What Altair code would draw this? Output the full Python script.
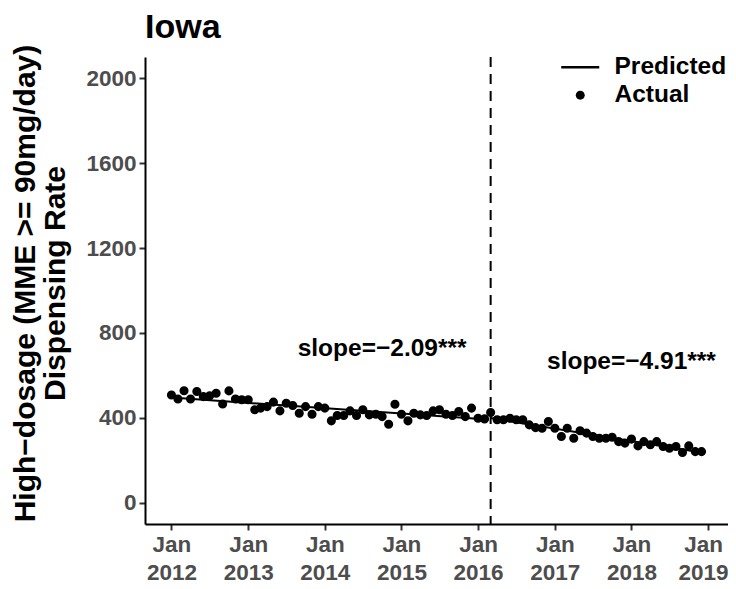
import altair as alt
import pandas as pd

# ---------------- data ----------------
# Monthly high-dosage dispensing rate, Jan 2012 .. Dec 2018
actual_rate = [
    508, 489, 528, 489, 524, 500, 504, 516, 465, 527, 489, 485,   # 2012
    485, 438, 446, 453, 474, 433, 469, 458, 422, 453, 417, 453,   # 2013
    446, 386, 411, 411, 433, 411, 438, 414, 417, 406, 370, 464,   # 2014
    417, 386, 422, 414, 411, 433, 438, 417, 411, 430, 406, 446,   # 2015
    398, 395, 425, 391, 391, 398, 391, 391, 367, 354, 351, 383,   # 2016
    351, 312, 351, 304, 339, 328, 312, 304, 304, 309, 288, 281,   # 2017
    300, 268, 288, 273, 288, 265, 257, 265, 237, 268, 241, 241,   # 2018
]
actual_months = pd.date_range("2012-01-01", "2018-12-01", freq="MS").strftime("%Y-%m-%d").tolist()

# Predicted (segmented regression) line end points
pred_dates = ["2012-01-01", "2016-02-01", "2016-03-01", "2018-12-01"]
pred_values = [496, 393, 399, 237]
pred_period = ["pre", "pre", "post", "post"]

# Intervention date (dashed line)
intervention_date = ["2016-03-01"]

# Slope annotations
annot_text = ["slope=\u22122.09***", "slope=\u22124.91***"]
annot_dates = ["2014-10-01", "2018-01-01"]
annot_values = [725, 663]

y_ticks = [0, 400, 800, 1200, 1600, 2000]
x_tick_years = list(range(2012, 2020))

# ---------------- tables ----------------
df_actual = pd.DataFrame({"date": actual_months, "value": actual_rate, "series": "Actual"})
df_pred = pd.DataFrame({"date": pred_dates, "value": pred_values, "period": pred_period})
df_rule = pd.DataFrame({"date": intervention_date})
df_text = pd.DataFrame({"date": annot_dates, "value": annot_values, "label": annot_text})


def ms(s):
    return int(pd.Timestamp(s, tz="UTC").value // 10**6)


x_domain = [ms("2011-08-28"), ms("2019-04-06")]
x_ticks = [ms(f"{y}-01-01") for y in x_tick_years]

FONT = "Liberation Sans"
CIRCLE = "M0.4,0A0.4,0.4,0,1,1,-0.4,0A0.4,0.4,0,1,1,0.4,0Z"
LINE = "M-1.7,-0.11H1.7V0.11H-1.7Z"

x_enc = alt.X(
    "date:T",
    scale=alt.Scale(type="utc", domain=x_domain, nice=False),
    axis=alt.Axis(
        values=x_ticks,
        labelExpr="[utcFormat(datum.value, '%b'), utcFormat(datum.value, '%Y')]",
        labelOffset={"condition": {"test": f"datum.value >= {x_ticks[-1]}", "value": -5}, "value": 0},
        title=None,
    ),
)
y_enc = alt.Y(
    "value:Q",
    scale=alt.Scale(domain=[-100, 2100], nice=False, zero=False),
    axis=alt.Axis(
        values=y_ticks,
        format="d",
        title=["High\u2212dosage (MME >= 90mg/day)", "Dispensing Rate"],
        titleY=226,
    ),
)

points = alt.Chart(df_actual).mark_point(
    filled=True, size=361, color="black", stroke="black", strokeWidth=1.5, opacity=1
).encode(
    x=x_enc,
    y=y_enc,
    shape=alt.Shape(
        "series:N",
        scale=alt.Scale(domain=["Predicted", "Actual"], range=[LINE, CIRCLE]),
        legend=alt.Legend(
            title=None,
            orient="none",
            legendX=423,
            legendY=-2,
            padding=0,
            symbolSize=500,
            symbolFillColor="black",
            symbolStrokeColor="black",
            symbolStrokeWidth=0,
            symbolOpacity=1,
            labelOffset=22,
            rowPadding=3,
            labelFont=FONT,
            labelFontSize=24.5,
            labelFontWeight="bold",
            labelColor="black",
        ),
    ),
)

line = alt.Chart(df_pred).mark_line(color="black", strokeWidth=2).encode(
    x="date:T", y="value:Q", detail="period:N"
)

rule = alt.Chart(df_rule).mark_rule(color="black", strokeWidth=2, strokeDash=[10, 7]).encode(
    x="date:T"
)

text = alt.Chart(df_text).mark_text(
    font=FONT, fontSize=24.5, fontWeight="bold", color="black", align="center", baseline="middle"
).encode(x="date:T", y="value:Q", text="label:N")

chart = (
    alt.layer(points, line, rule, text)
    .properties(
        width=583,
        height=467,
        title=alt.Title(
            "Iowa", anchor="start", frame="group", font=FONT, fontSize=34,
            fontWeight="bold", color="black", offset=-1,
        ),
        autosize=alt.AutoSizeParams(type="none"),
        padding={"left": 137, "top": 49, "right": 0, "bottom": 60},
    )
    .configure_view(stroke=None)
    .configure_axis(
        grid=False,
        domainColor="black",
        domainWidth=2,
        tickColor="#333333",
        tickWidth=2,
        tickSize=6,
        labelFont=FONT,
        labelFontSize=22.5,
        labelFontWeight="bold",
        labelColor="#4D4D4D",
        labelPadding=3,
        labelLineHeight=28,
        titleFont=FONT,
        titleFontSize=30,
        titleFontWeight="bold",
        titleColor="black",
        titleLineHeight=30,
        titlePadding=15,
    )
)

chart.save("out.html", embed_options={"renderer": "svg", "actions": False})
